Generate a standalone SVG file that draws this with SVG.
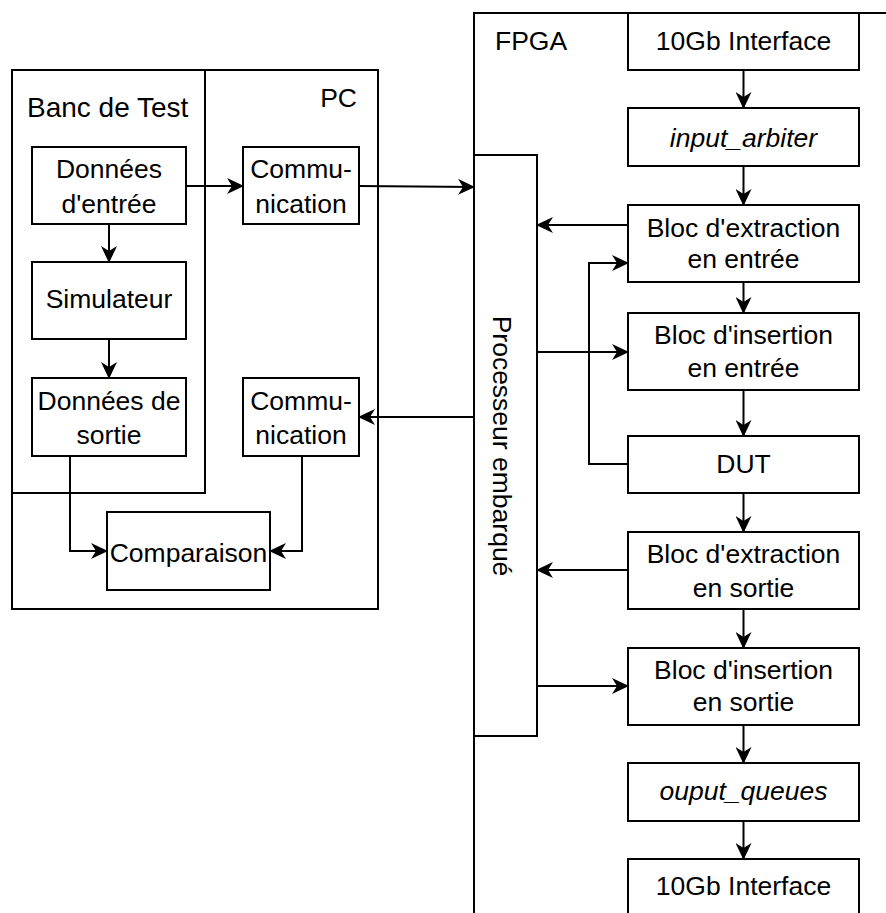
<svg xmlns="http://www.w3.org/2000/svg" width="886" height="913" viewBox="0 0 886 913">
<style>
.box{fill:#fff;stroke:#000;stroke-width:2}
.cont{fill:none;stroke:#000;stroke-width:2}
.t{font-family:"Liberation Sans",Arial,sans-serif;font-size:26.5px;fill:#000;text-anchor:middle}
.tl{font-family:"Liberation Sans",Arial,sans-serif;font-size:26.5px;fill:#000}
.it{font-style:italic}
.c{fill:none;stroke:#000;stroke-width:2;marker-end:url(#arr)}
.cn{fill:none;stroke:#000;stroke-width:2}
</style>
<defs>
<marker id="arr" viewBox="0 0 17 16" refX="16" refY="8" markerWidth="17" markerHeight="16" markerUnits="userSpaceOnUse" orient="auto">
<path d="M0,0 L17,8 L0,16 L5,8 Z" fill="#000"/>
</marker>
</defs>
<rect width="886" height="913" fill="#fff"/>
<g id="pc">
<rect class="cont" x="12" y="70" width="366" height="539"/>
<text class="tl" x="357" y="107" text-anchor="end">PC</text>
</g>
<g id="banc">
<rect class="cont" x="12" y="70" width="193" height="423"/>
<text class="tl" x="27" y="117" style="font-size:28px">Banc de Test</text>
</g>
<g id="fpga">
<rect class="cont" x="474" y="13" width="430" height="920"/>
<text class="tl" x="495" y="50">FPGA</text>
</g>
<g id="donnees-entree">
<rect class="box" x="32" y="147" width="154" height="77"/>
<text class="t" x="109" y="178">Données</text>
<text class="t" x="109" y="213">d'entrée</text>
</g>
<g id="simulateur">
<rect class="box" x="32" y="262" width="154" height="77"/>
<text class="t" x="109" y="308">Simulateur</text>
</g>
<g id="donnees-sortie">
<rect class="box" x="32" y="378" width="154" height="78"/>
<text class="t" x="109" y="410">Données de</text>
<text class="t" x="109" y="444">sortie</text>
</g>
<g id="comm1">
<rect class="box" x="243" y="147" width="116" height="77"/>
<text class="t" x="301" y="178">Commu-</text>
<text class="t" x="301" y="213">nication</text>
</g>
<g id="comm2">
<rect class="box" x="243" y="378" width="116" height="78"/>
<text class="t" x="301" y="410">Commu-</text>
<text class="t" x="301" y="444">nication</text>
</g>
<g id="comparaison">
<rect class="box" x="107" y="512" width="163" height="78"/>
<text class="t" x="188.5" y="562">Comparaison</text>
</g>
<g id="processeur">
<rect class="box" x="474" y="155" width="63" height="581"/>
<text class="t" transform="translate(493,446) rotate(90)" x="0" y="0">Processeur embarqué</text>
</g>
<g id="if-in">
<rect class="box" x="628" y="13" width="231" height="57"/>
<text class="t" x="743.5" y="50">10Gb Interface</text>
</g>
<g id="input-arbiter">
<rect class="box" x="628" y="108" width="231" height="58"/>
<text class="t it" x="743.5" y="147">input_arbiter</text>
</g>
<g id="extr-in">
<rect class="box" x="628" y="205" width="231" height="77"/>
<text class="t" x="743.5" y="237">Bloc d'extraction</text>
<text class="t" x="743.5" y="268">en entrée</text>
</g>
<g id="ins-in">
<rect class="box" x="628" y="313" width="231" height="77"/>
<text class="t" x="743.5" y="344">Bloc d'insertion</text>
<text class="t" x="743.5" y="377">en entrée</text>
</g>
<g id="dut">
<rect class="box" x="628" y="436" width="231" height="57"/>
<text class="t" x="743.5" y="473">DUT</text>
</g>
<g id="extr-out">
<rect class="box" x="628" y="532" width="231" height="77"/>
<text class="t" x="743.5" y="563">Bloc d'extraction</text>
<text class="t" x="743.5" y="597">en sortie</text>
</g>
<g id="ins-out">
<rect class="box" x="628" y="648" width="231" height="77"/>
<text class="t" x="743.5" y="679">Bloc d'insertion</text>
<text class="t" x="743.5" y="711">en sortie</text>
</g>
<g id="output-queues">
<rect class="box" x="628" y="763" width="231" height="58"/>
<text class="t it" x="743.5" y="800">ouput_queues</text>
</g>
<g id="if-out">
<rect class="box" x="628" y="859" width="231" height="80"/>
<text class="t" x="743.5" y="895">10Gb Interface</text>
</g>
<g id="connectors">
<path class="c" d="M109,224 V262"/>
<path class="c" d="M109,339 V378"/>
<path class="c" d="M186,186 H243"/>
<path class="c" d="M359,186 L474,187"/>
<path class="c" d="M474,417 H359"/>
<path class="c" d="M70,456 V551 H107"/>
<path class="c" d="M302,456 V551 H270"/>
<path class="c" d="M743.5,70 V108"/>
<path class="c" d="M743.5,166 V205"/>
<path class="c" d="M628,225 H537"/>
<path class="c" d="M628,464 H589 V263 H628"/>
<path class="c" d="M743.5,282 V313"/>
<path class="c" d="M537,352 H628"/>
<path class="c" d="M743.5,390 V436"/>
<path class="c" d="M743.5,493 V532"/>
<path class="c" d="M628,570 H537"/>
<path class="c" d="M743.5,609 V648"/>
<path class="c" d="M537,686 H628"/>
<path class="c" d="M743.5,725 V763"/>
<path class="c" d="M743.5,821 V859"/>
</g>
</svg>
